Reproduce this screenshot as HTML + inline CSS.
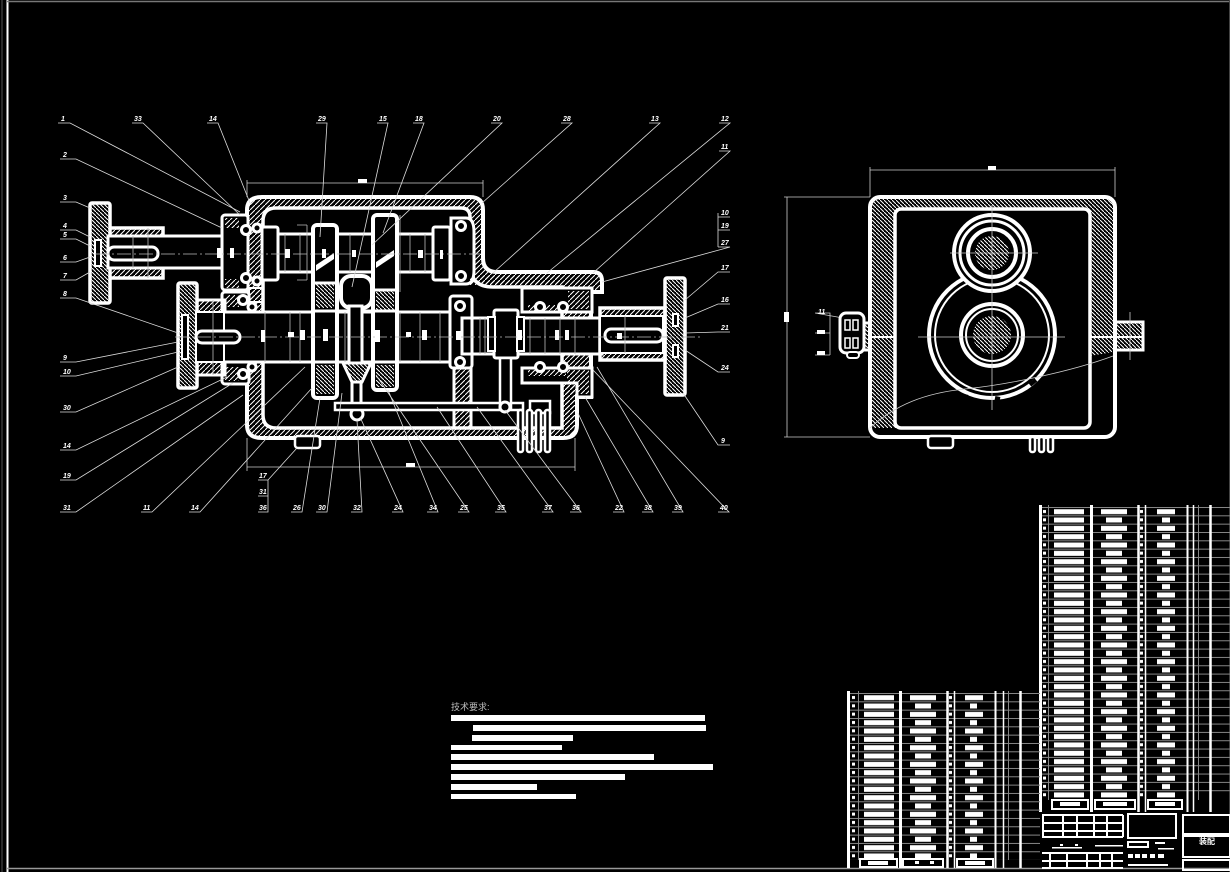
<!DOCTYPE html>
<html><head><meta charset="utf-8"><style>
html,body{margin:0;padding:0;background:#000;}
svg{display:block}
text{font-family:"Liberation Sans","Noto Sans CJK SC",sans-serif;fill:#fff;}
.lb{font-size:7px;font-weight:bold;font-style:italic;}
</style></head><body>
<svg width="1230" height="872" viewBox="0 0 1230 872" xmlns="http://www.w3.org/2000/svg">
<defs>
<pattern id="h1" width="5" height="5" patternUnits="userSpaceOnUse"><path d="M-1,6 L6,-1" stroke="#fff" stroke-width="1"/></pattern>
<pattern id="h2" width="4" height="4" patternUnits="userSpaceOnUse"><path d="M-1,-1 L5,5" stroke="#fff" stroke-width="1"/></pattern>
<pattern id="pRi" x="1040" y="507" width="8" height="8.33" patternUnits="userSpaceOnUse"><line x1="0" y1="0.5" x2="8" y2="0.5" stroke="#888"/><rect x="3" y="3" width="3" height="3" fill="#fff"/></pattern>
<pattern id="pR1" x="1048" y="507" width="43" height="8.33" patternUnits="userSpaceOnUse"><line x1="0" y1="0.5" x2="43" y2="0.5" stroke="#888"/><rect x="6" y="2.2" width="30" height="5" fill="#fff"/></pattern>
<pattern id="pR2" x="1091" y="507" width="47" height="16.66" patternUnits="userSpaceOnUse"><line x1="0" y1="0.5" x2="47" y2="0.5" stroke="#888"/><line x1="0" y1="8.83" x2="47" y2="8.83" stroke="#888"/><rect x="10" y="2.2" width="26" height="5" fill="#fff"/><rect x="15" y="10.5" width="16" height="5" fill="#fff"/></pattern>
<pattern id="pR3" x="1138" y="507" width="7" height="8.33" patternUnits="userSpaceOnUse"><line x1="0" y1="0.5" x2="7" y2="0.5" stroke="#888"/><rect x="2" y="3" width="3" height="3" fill="#fff"/></pattern>
<pattern id="pR4" x="1145" y="507" width="42" height="16.66" patternUnits="userSpaceOnUse"><line x1="0" y1="0.5" x2="42" y2="0.5" stroke="#888"/><line x1="0" y1="8.83" x2="42" y2="8.83" stroke="#888"/><rect x="12" y="2.2" width="18" height="5" fill="#fff"/><rect x="17" y="10.5" width="8" height="5" fill="#fff"/></pattern>
<pattern id="pR5" x="1187" y="507" width="43" height="8.33" patternUnits="userSpaceOnUse"><line x1="0" y1="0.5" x2="43" y2="0.5" stroke="#888"/></pattern>
<pattern id="pLi" x="848" y="693" width="10" height="8.33" patternUnits="userSpaceOnUse"><line x1="0" y1="0.5" x2="10" y2="0.5" stroke="#888"/><rect x="4" y="3" width="3" height="3" fill="#fff"/></pattern>
<pattern id="pL1" x="858" y="693" width="42" height="8.33" patternUnits="userSpaceOnUse"><line x1="0" y1="0.5" x2="42" y2="0.5" stroke="#888"/><rect x="6" y="2.2" width="30" height="5" fill="#fff"/></pattern>
<pattern id="pL2" x="900" y="693" width="47" height="16.66" patternUnits="userSpaceOnUse"><line x1="0" y1="0.5" x2="47" y2="0.5" stroke="#888"/><line x1="0" y1="8.83" x2="47" y2="8.83" stroke="#888"/><rect x="10" y="2.2" width="26" height="5" fill="#fff"/><rect x="15" y="10.5" width="16" height="5" fill="#fff"/></pattern>
<pattern id="pL3" x="947" y="693" width="7" height="8.33" patternUnits="userSpaceOnUse"><line x1="0" y1="0.5" x2="7" y2="0.5" stroke="#888"/><rect x="2" y="3" width="3" height="3" fill="#fff"/></pattern>
<pattern id="pL4" x="954" y="693" width="41" height="16.66" patternUnits="userSpaceOnUse"><line x1="0" y1="0.5" x2="41" y2="0.5" stroke="#888"/><line x1="0" y1="8.83" x2="41" y2="8.83" stroke="#888"/><rect x="11" y="2.2" width="18" height="5" fill="#fff"/><rect x="16" y="10.5" width="7" height="5" fill="#fff"/></pattern>
<pattern id="pL5" x="995" y="693" width="45" height="8.33" patternUnits="userSpaceOnUse"><line x1="0" y1="0.5" x2="45" y2="0.5" stroke="#888"/></pattern>
</defs>
<rect width="1230" height="872" fill="#000"/>
<line x1="2" y1="0" x2="2" y2="872" stroke="#555" stroke-width="1"/>
<line x1="7.5" y1="0" x2="7.5" y2="872" stroke="#fff" stroke-width="2"/>
<line x1="7" y1="1.5" x2="1230" y2="1.5" stroke="#777" stroke-width="1.5"/>
<line x1="7" y1="868.5" x2="1230" y2="868.5" stroke="#999" stroke-width="1.5"/>
<line x1="1229.5" y1="0" x2="1229.5" y2="872" stroke="#444" stroke-width="1"/>

<!-- MAIN VIEW -->
<g stroke="#ccc" stroke-width="0.8" fill="none">
<path d="M247,183 H483 M247,180 V197 M483,180 V197"/>
<path d="M247,467 H575 M247,438 V471 M575,438 V471"/>
</g>
<rect x="358" y="179" width="9" height="4" fill="#fff"/>
<rect x="406" y="463" width="9" height="4" fill="#fff"/>

<path d="M262,197 H470 Q483,197 483,210 V258 Q483,272 497,272 H593 Q602,272 602,281 V292 H591 V397 H577 V425 Q577,438 563,438 H262 Q247,438 247,425 V210 Q247,197 262,197 Z" fill="url(#h1)" stroke="#fff" stroke-width="4"/>
<path d="M276,208 H461 Q470,208 470,217 V264 Q470,287 493,287 H562 V428 H276 Q263,428 263,415 V221 Q263,208 276,208 Z" fill="#000" stroke="#fff" stroke-width="3.5"/>
<rect x="454" y="368" width="17" height="60" fill="url(#h1)" stroke="#fff" stroke-width="3"/>
<rect x="563" y="385" width="14" height="45" fill="url(#h1)"/>

<rect x="222" y="215" width="26" height="75" rx="3" fill="#000" stroke="#fff" stroke-width="3"/>
<rect x="225" y="218" width="14" height="10" fill="url(#h1)"/>
<rect x="225" y="279" width="14" height="9" fill="url(#h1)"/>
<rect x="222" y="292" width="27" height="92" rx="3" fill="#000" stroke="#fff" stroke-width="3"/>
<rect x="225" y="295" width="14" height="12" fill="url(#h1)"/>
<rect x="225" y="367" width="14" height="14" fill="url(#h1)"/>
<rect x="249" y="288" width="14" height="14" fill="url(#h1)" stroke="#fff" stroke-width="2"/>

<rect x="90" y="203" width="20" height="100" rx="2" fill="url(#h2)" stroke="#fff" stroke-width="3.5"/>
<path d="M110,228 H163 V278 H110" fill="url(#h1)" stroke="#fff" stroke-width="3.5"/>
<rect x="108" y="236" width="114" height="32" fill="#000" stroke="#fff" stroke-width="3"/>
<rect x="108" y="247" width="50" height="13" rx="6" fill="#000" stroke="#fff" stroke-width="3"/>
<rect x="95" y="240" width="6" height="26" fill="#000" stroke="#fff" stroke-width="2"/>

<rect x="178" y="283" width="19" height="105" rx="2" fill="url(#h2)" stroke="#fff" stroke-width="3.5"/>
<rect x="197" y="300" width="28" height="75" fill="url(#h1)" stroke="#fff" stroke-width="3"/>
<rect x="182" y="315" width="6" height="44" fill="#000" stroke="#fff" stroke-width="2"/>

<rect x="222" y="312" width="240" height="50" fill="#000" stroke="#fff" stroke-width="3"/>
<rect x="196" y="312" width="28" height="50" fill="#000" stroke="#fff" stroke-width="2"/>
<rect x="196" y="331" width="44" height="12" rx="6" fill="#000" stroke="#fff" stroke-width="3"/>
<rect x="262" y="234" width="190" height="38" fill="#000" stroke="#fff" stroke-width="3"/>
<rect x="262" y="227" width="16" height="53" rx="2" fill="#000" stroke="#fff" stroke-width="3"/>
<rect x="433" y="227" width="17" height="53" rx="2" fill="#000" stroke="#fff" stroke-width="3"/>
<rect x="462" y="318" width="140" height="36" fill="#000" stroke="#fff" stroke-width="3"/>

<path d="M451,218 H466 Q474,218 474,232 V270 Q474,284 466,284 H451 Z" fill="#000" stroke="#fff" stroke-width="3"/>
<rect x="450" y="296" width="22" height="72" rx="3" fill="#000" stroke="#fff" stroke-width="3"/>
<rect x="522" y="288" width="70" height="24" fill="#000" stroke="#fff" stroke-width="3"/>
<rect x="568" y="291" width="21" height="18" fill="url(#h1)"/>
<path d="M522,368 H592 V397 H577 V383 H522 Z" fill="#000" stroke="#fff" stroke-width="3"/>
<rect x="567" y="370" width="22" height="24" fill="url(#h1)"/>
<rect x="528" y="305" width="40" height="6" fill="url(#h1)"/>
<rect x="528" y="370" width="38" height="6" fill="url(#h1)"/>
<rect x="462" y="318" width="140" height="36" fill="none" stroke="#fff" stroke-width="3"/>
<rect x="470" y="275" width="90" height="10" fill="url(#h1)"/>

<rect x="600" y="308" width="65" height="52" fill="url(#h1)" stroke="#fff" stroke-width="3.5"/>
<rect x="600" y="316" width="63" height="37" fill="#000" stroke="#fff" stroke-width="2"/>
<rect x="605" y="329" width="58" height="13" rx="6" fill="#000" stroke="#fff" stroke-width="3"/>
<rect x="665" y="278" width="20" height="117" rx="2" fill="url(#h2)" stroke="#fff" stroke-width="3.5"/>
<rect x="673" y="314" width="5" height="12" fill="#000" stroke="#fff" stroke-width="2"/>
<rect x="673" y="345" width="5" height="12" fill="#000" stroke="#fff" stroke-width="2"/>

<rect x="313" y="225" width="24" height="173" rx="4" fill="#000" stroke="#fff" stroke-width="4"/>
<rect x="316" y="284" width="18" height="24" fill="url(#h2)"/>
<rect x="316" y="365" width="18" height="29" fill="url(#h2)"/>
<path d="M316,265 L334,253 V259 L316,271 Z" fill="#fff"/>
<line x1="313" y1="283" x2="337" y2="283" stroke="#fff" stroke-width="3"/>
<rect x="373" y="215" width="24" height="175" rx="4" fill="#000" stroke="#fff" stroke-width="4"/>
<rect x="376" y="290" width="18" height="20" fill="url(#h2)"/>
<rect x="376" y="365" width="18" height="22" fill="url(#h2)"/>
<path d="M376,262 L394,250 V256 L376,268 Z" fill="#fff"/>
<line x1="373" y1="290" x2="397" y2="290" stroke="#fff" stroke-width="3"/>
<path d="M313,311 H397 M313,362 H397" stroke="#fff" stroke-width="3"/>
<rect x="341" y="276" width="31" height="32" rx="10" fill="#000" stroke="#fff" stroke-width="4"/>
<rect x="349" y="306" width="13" height="57" fill="#000" stroke="#fff" stroke-width="3"/>
<path d="M343,363 H371 L362,382 H352 Z" fill="url(#h2)" stroke="#fff" stroke-width="3"/>
<rect x="352" y="382" width="9" height="34" fill="#000" stroke="#fff" stroke-width="3"/>
<circle cx="357" cy="414" r="6" fill="#000" stroke="#fff" stroke-width="3"/>
<rect x="335" y="403" width="188" height="7" fill="#000" stroke="#fff" stroke-width="2.5"/>
<rect x="494" y="310" width="24" height="48" rx="2" fill="#000" stroke="#fff" stroke-width="3"/>
<rect x="488" y="317" width="7" height="34" fill="#000" stroke="#fff" stroke-width="2"/>
<rect x="517" y="317" width="7" height="34" fill="#000" stroke="#fff" stroke-width="2"/>
<rect x="500" y="358" width="11" height="50" fill="#000" stroke="#fff" stroke-width="2.5"/>
<circle cx="505" cy="407" r="5" fill="#000" stroke="#fff" stroke-width="3"/>
<rect x="530" y="401" width="20" height="12" fill="#000" stroke="#fff" stroke-width="2.5"/>
<g fill="#000" stroke="#fff" stroke-width="2.5">
<rect x="518" y="410" width="5" height="42" rx="2"/>
<rect x="527" y="410" width="5" height="42" rx="2"/>
<rect x="536" y="410" width="5" height="42" rx="2"/>
<rect x="545" y="410" width="5" height="42" rx="2"/>
<rect x="295" y="436" width="25" height="12" rx="3"/>
</g>
<g fill="#000" stroke="#fff" stroke-width="3">
<circle cx="246" cy="230" r="4.5"/><circle cx="246" cy="278" r="4.5"/>
<circle cx="257" cy="228" r="4"/><circle cx="257" cy="281" r="4"/>
<circle cx="243" cy="300" r="4.5"/><circle cx="252" cy="307" r="4"/>
<circle cx="243" cy="374" r="4.5"/><circle cx="252" cy="367" r="4"/>
<circle cx="461" cy="226" r="4.5"/><circle cx="461" cy="276" r="4.5"/>
<circle cx="460" cy="306" r="4.5"/><circle cx="460" cy="362" r="4.5"/>
<circle cx="540" cy="307" r="4.5"/><circle cx="563" cy="307" r="4.5"/>
<circle cx="540" cy="367" r="4.5"/><circle cx="563" cy="367" r="4.5"/>
</g>
<g stroke="#bbb" stroke-width="0.8" fill="none">
<path d="M95,254 H480" stroke-dasharray="14,3,2,3"/>
<path d="M175,337 H700" stroke-dasharray="14,3,2,3"/>
<path d="M285,234 V272 M300,234 V272 M350,234 V272 M410,234 V272 M425,234 V272 M148,228 V278 M133,236 V268"/>
<path d="M265,312 V362 M290,312 V362 M300,312 V362 M345,312 V362 M400,312 V362 M420,312 V362 M440,312 V362 M213,300 V375"/>
<path d="M480,318 V354 M485,318 V354 M530,318 V354 M545,318 V354 M560,318 V354 M575,318 V354 M625,316 V353"/>
<path d="M307,225 V280 M400,215 V292 M297,225 H307 M297,280 H307"/>
</g>
<g fill="#fff">
<rect x="217" y="248" width="4" height="10"/><rect x="230" y="248" width="4" height="10"/>
<rect x="285" y="249" width="5" height="9"/><rect x="322" y="249" width="4" height="9"/>
<rect x="352" y="250" width="4" height="7"/><rect x="418" y="250" width="5" height="8"/>
<rect x="440" y="250" width="3" height="9"/><rect x="261" y="330" width="4" height="12"/>
<rect x="288" y="332" width="6" height="5"/><rect x="300" y="330" width="5" height="10"/>
<rect x="323" y="329" width="5" height="12"/><rect x="375" y="330" width="5" height="12"/>
<rect x="406" y="332" width="5" height="5"/><rect x="422" y="330" width="5" height="10"/>
<rect x="456" y="331" width="5" height="9"/><rect x="517" y="330" width="5" height="10"/>
<rect x="555" y="330" width="4" height="10"/><rect x="565" y="330" width="4" height="10"/>
<rect x="617" y="333" width="5" height="6"/>
</g>

<g stroke="#ddd" stroke-width="0.8" fill="none">
<path d="M58,123 H70 L240,212"/><path d="M132,123 H143 L240,215"/><path d="M207,123 H218 L250,203"/>
<path d="M316,123 H327 L320,237"/><path d="M377,123 H388 L352,287"/><path d="M413,123 H424 L383,233"/>
<path d="M491,123 H502 L372,245"/><path d="M561,123 H572 L482,203"/><path d="M649,123 H660 L493,273"/>
<path d="M719,123 H730 L547,273"/><path d="M719,151 H730 L593,273"/>
<path d="M718,213 V247 M718,217 H730 M718,230 H730 M718,247 H730 L602,282"/>
<path d="M730,272 H718 L685,300"/><path d="M730,304 H718 L685,318"/><path d="M730,332 H718 L685,333"/>
<path d="M730,372 H718 L685,350"/><path d="M730,445 H718 L683,393"/>
<path d="M60,159 H76 L222,228"/><path d="M60,202 H76 L90,208"/><path d="M60,230 H76 L90,237"/>
<path d="M60,239 H76 L90,246"/><path d="M60,262 H76 L90,257"/><path d="M60,280 H76 L90,272"/>
<path d="M60,298 H76 L178,333"/><path d="M60,362 H76 L178,342"/><path d="M60,376 H76 L178,352"/>
<path d="M60,412 H76 L178,367"/><path d="M60,450 H76 L227,377"/><path d="M60,480 H76 L233,383"/>
<path d="M60,512 H76 L243,395"/>
<path d="M141,512 H152 L305,367"/><path d="M189,512 H200 L312,388"/>
<path d="M258,480 H268 V512 H258 M258,496 H268 M268,480 L297,448"/>
<path d="M291,512 H302 L320,398"/><path d="M316,512 H327 L342,393"/><path d="M351,512 H362 L357,420"/>
<path d="M392,512 H403 L360,417"/><path d="M427,512 H438 L388,390"/><path d="M458,512 H469 L376,375"/>
<path d="M495,512 H506 L437,407"/><path d="M542,512 H553 L477,407"/><path d="M570,512 H581 L505,410"/>
<path d="M613,512 H624 L578,413"/><path d="M642,512 H653 L585,397"/><path d="M672,512 H683 L597,367"/>
<path d="M718,512 H729 L593,370"/>
</g>
<g class="lb">
<text x="61" y="121">1</text><text x="134" y="121">33</text><text x="209" y="121">14</text>
<text x="318" y="121">29</text><text x="379" y="121">15</text><text x="415" y="121">18</text>
<text x="493" y="121">20</text><text x="563" y="121">28</text><text x="651" y="121">13</text>
<text x="721" y="121">12</text><text x="721" y="149">11</text>
<text x="721" y="215">10</text><text x="721" y="228">19</text><text x="721" y="245">27</text>
<text x="721" y="270">17</text><text x="721" y="302">16</text><text x="721" y="330">21</text>
<text x="721" y="370">24</text><text x="721" y="443">9</text>
<text x="63" y="157">2</text><text x="63" y="200">3</text><text x="63" y="228">4</text>
<text x="63" y="237">5</text><text x="63" y="260">6</text><text x="63" y="278">7</text>
<text x="63" y="296">8</text><text x="63" y="360">9</text><text x="63" y="374">10</text>
<text x="63" y="410">30</text><text x="63" y="448">14</text><text x="63" y="478">19</text>
<text x="63" y="510">31</text>
<text x="143" y="510">11</text><text x="191" y="510">14</text>
<text x="259" y="478">17</text><text x="259" y="494">31</text><text x="259" y="510">36</text>
<text x="293" y="510">26</text><text x="318" y="510">30</text><text x="353" y="510">32</text>
<text x="394" y="510">24</text><text x="429" y="510">34</text><text x="460" y="510">25</text>
<text x="497" y="510">35</text><text x="544" y="510">37</text><text x="572" y="510">36</text>
<text x="615" y="510">22</text><text x="644" y="510">38</text><text x="674" y="510">39</text>
<text x="720" y="510">40</text>
</g>

<!-- SIDE VIEW -->
<g stroke="#ccc" stroke-width="0.8" fill="none">
<path d="M870,170 H1115 M870,167 V197 M1115,167 V197"/>
<path d="M787,197 V437 M784,197 H870 M784,437 H870"/>
<path d="M916,253 V337 M916,253 H992 M916,337 H992"/>
<path d="M815,313 H830 V355 M815,333 H830 M815,355 H830 M815,313 L843,318"/>
</g>
<rect x="988" y="166" width="8" height="4" fill="#fff"/>
<rect x="784" y="312" width="5" height="10" fill="#fff"/>
<rect x="913" y="292" width="5" height="6" fill="#fff"/>
<rect x="817" y="330" width="8" height="4" fill="#fff"/>
<rect x="817" y="351" width="8" height="4" fill="#fff"/>
<text class="lb" x="818" y="314">11</text>

<rect x="870" y="197" width="245" height="240" rx="10" fill="url(#h2)"/>
<rect x="872" y="428" width="241" height="8" fill="#000"/>
<path d="M1090,356 L1113,352 V435 H1090 Z" fill="#000"/>
<rect x="858" y="323" width="14" height="27" fill="url(#h2)"/>
<rect x="1113" y="322" width="30" height="28" fill="url(#h2)"/>
<path d="M872,337 H895 M1090,337 H1143" stroke="#fff" stroke-width="2"/>
<rect x="895" y="209" width="195" height="219" rx="6" fill="#000" stroke="#fff" stroke-width="3.5"/>
<rect x="870" y="197" width="245" height="240" rx="10" fill="none" stroke="#fff" stroke-width="4"/>
<path d="M870,323 H860 V350 H870" fill="none" stroke="#fff" stroke-width="3"/>
<path d="M1115,322 H1143 V350 H1115" fill="none" stroke="#fff" stroke-width="3"/>
<rect x="840" y="313" width="24" height="40" rx="6" fill="#000" stroke="#fff" stroke-width="3"/>
<rect x="845" y="320" width="5" height="10" fill="none" stroke="#fff" stroke-width="1.5"/>
<rect x="853" y="320" width="5" height="10" fill="none" stroke="#fff" stroke-width="1.5"/>
<rect x="845" y="338" width="5" height="10" fill="none" stroke="#fff" stroke-width="1.5"/>
<rect x="853" y="338" width="5" height="10" fill="none" stroke="#fff" stroke-width="1.5"/>
<rect x="847" y="352" width="12" height="6" rx="3" fill="#000" stroke="#fff" stroke-width="2"/>
<circle cx="992" cy="335" r="63" fill="#000" stroke="#fff" stroke-width="4"/>
<circle cx="992" cy="335" r="57" fill="none" stroke="#fff" stroke-width="2"/>
<circle cx="992" cy="253" r="38" fill="#000" stroke="#fff" stroke-width="4"/>
<circle cx="992" cy="253" r="32" fill="none" stroke="#fff" stroke-width="3"/>
<circle cx="992" cy="253" r="24" fill="#000" stroke="#fff" stroke-width="4"/>
<circle cx="992" cy="253" r="17" fill="url(#h2)"/>
<circle cx="992" cy="335" r="31" fill="#000" stroke="#fff" stroke-width="4"/>
<circle cx="992" cy="335" r="26" fill="none" stroke="#fff" stroke-width="2"/>
<circle cx="992" cy="335" r="19" fill="url(#h2)"/>
<path d="M960,395 L968,397 M1030,385 L1036,380 M995,398 L1000,399" stroke="#000" stroke-width="4"/>
<g stroke="#ccc" stroke-width="0.8" fill="none">
<path d="M950,253 H1038 M992,205 V410 M918,337 H1065 M1130,312 V360"/>
<path d="M870,428 C895,405 925,393 965,389 S1070,372 1113,356"/>
</g>
<rect x="928" y="436" width="25" height="12" rx="3" fill="#000" stroke="#fff" stroke-width="2.5"/>
<g fill="#000" stroke="#fff" stroke-width="2.5">
<rect x="1030" y="437" width="5" height="15" rx="2"/>
<rect x="1039" y="437" width="5" height="15" rx="2"/>
<rect x="1048" y="437" width="5" height="15" rx="2"/>
</g>

<!-- TECH TEXT -->
<text x="451" y="710" style="font-size:9px;fill:#bbb;">技术要求:</text>
<g fill="#fff">
<rect x="451" y="715" width="254" height="6"/>
<rect x="473" y="725" width="233" height="6"/>
<rect x="472" y="735" width="101" height="6"/>
<rect x="451" y="745" width="111" height="5"/>
<rect x="451" y="754" width="203" height="6"/>
<rect x="451" y="764" width="262" height="6"/>
<rect x="451" y="774" width="174" height="6"/>
<rect x="451" y="784" width="86" height="6"/>
<rect x="451" y="794" width="125" height="5"/>
</g>

<!-- RIGHT TABLE -->
<rect x="1040" y="507" width="8" height="291.5" fill="url(#pRi)"/>
<rect x="1048" y="507" width="43" height="291.5" fill="url(#pR1)"/>
<rect x="1091" y="507" width="47" height="291.5" fill="url(#pR2)"/>
<rect x="1138" y="507" width="7" height="291.5" fill="url(#pR3)"/>
<rect x="1145" y="507" width="42" height="291.5" fill="url(#pR4)"/>
<rect x="1187" y="507" width="43" height="291.5" fill="url(#pR5)"/>
<g stroke="#fff">
<path d="M1040.5,505 V812" stroke-width="3"/>
<path d="M1091.5,505 V812" stroke-width="3"/>
<path d="M1138.5,505 V812" stroke-width="2.5"/>
<path d="M1145.5,505 V812" stroke-width="1.5"/>
<path d="M1187.5,505 V812" stroke-width="2"/>
<path d="M1193.5,505 V812" stroke-width="1.5"/>
<path d="M1210.5,505 V812" stroke-width="2.5"/>
</g>
<path d="M1048.5,505 V800 M1198.5,505 V800" stroke="#888"/>
<g fill="#000" stroke="#fff" stroke-width="2">
<rect x="1052" y="800" width="36" height="9"/>
<rect x="1095" y="800" width="40" height="9"/>
<rect x="1148" y="800" width="34" height="9"/>
</g>
<g fill="#fff"><rect x="1060" y="802" width="20" height="4"/><rect x="1103" y="802" width="24" height="4"/><rect x="1155" y="802" width="20" height="4"/></g>
<g stroke="#fff" stroke-width="2" fill="none">
<path d="M1042,815 H1123 M1042,823 H1123 M1042,831 H1123 M1042,837 H1123 M1042,853 H1123 M1042,861 H1123 M1042,868 H1123"/>
<path d="M1043,815 V837 M1063,815 V837 M1077,815 V837 M1094,815 V837 M1107,815 V837 M1123,815 V837"/>
<path d="M1050,853 V868 M1067,853 V868 M1087,853 V868 M1100,853 V868 M1112,853 V868"/>
<rect x="1128" y="814" width="48" height="24"/>
<rect x="1183" y="815" width="47" height="19"/>
<rect x="1183" y="836" width="47" height="21"/>
<rect x="1183" y="860" width="47" height="10"/>
<rect x="1128" y="842" width="20" height="5"/>
</g>
<g fill="#fff">
<rect x="1060" y="844" width="3" height="2"/><rect x="1075" y="844" width="3" height="2"/>
<rect x="1052" y="847" width="30" height="1.5"/><rect x="1095" y="845" width="28" height="1.5"/>
<rect x="1128" y="854" width="5" height="4"/><rect x="1135" y="854" width="5" height="4"/><rect x="1142" y="854" width="5" height="4"/><rect x="1150" y="854" width="5" height="4"/>
<rect x="1158" y="854" width="6" height="4"/><rect x="1155" y="842" width="10" height="2"/><rect x="1158" y="848" width="16" height="1.5"/>
<rect x="1128" y="864" width="40" height="2"/>
</g>
<text x="1199" y="844" style="font-size:8px;font-weight:bold;">装配</text>

<!-- LEFT TABLE -->
<rect x="848" y="693" width="10" height="166.6" fill="url(#pLi)"/>
<rect x="858" y="693" width="42" height="166.6" fill="url(#pL1)"/>
<rect x="900" y="693" width="47" height="166.6" fill="url(#pL2)"/>
<rect x="947" y="693" width="7" height="166.6" fill="url(#pL3)"/>
<rect x="954" y="693" width="41" height="166.6" fill="url(#pL4)"/>
<rect x="995" y="693" width="45" height="166.6" fill="url(#pL5)"/>
<g stroke="#fff">
<path d="M848.5,691 V868" stroke-width="3"/>
<path d="M900.5,691 V868" stroke-width="3"/>
<path d="M947.5,691 V868" stroke-width="2.5"/>
<path d="M954.5,691 V868" stroke-width="1.5"/>
<path d="M995.5,691 V868" stroke-width="2"/>
<path d="M1003.5,691 V868" stroke-width="1.5"/>
<path d="M1020.5,691 V868" stroke-width="2.5"/>
</g>
<path d="M858.5,691 V860 M1008.5,691 V860" stroke="#888"/>
<g fill="#000" stroke="#fff" stroke-width="2">
<rect x="860" y="859" width="37" height="8"/>
<rect x="903" y="859" width="40" height="8"/>
<rect x="957" y="859" width="36" height="8"/>
</g>
<g fill="#fff"><rect x="868" y="861" width="20" height="4"/><rect x="915" y="861" width="4" height="3"/><rect x="930" y="861" width="4" height="3"/><rect x="965" y="861" width="20" height="4"/></g>
</svg>
</body></html>
